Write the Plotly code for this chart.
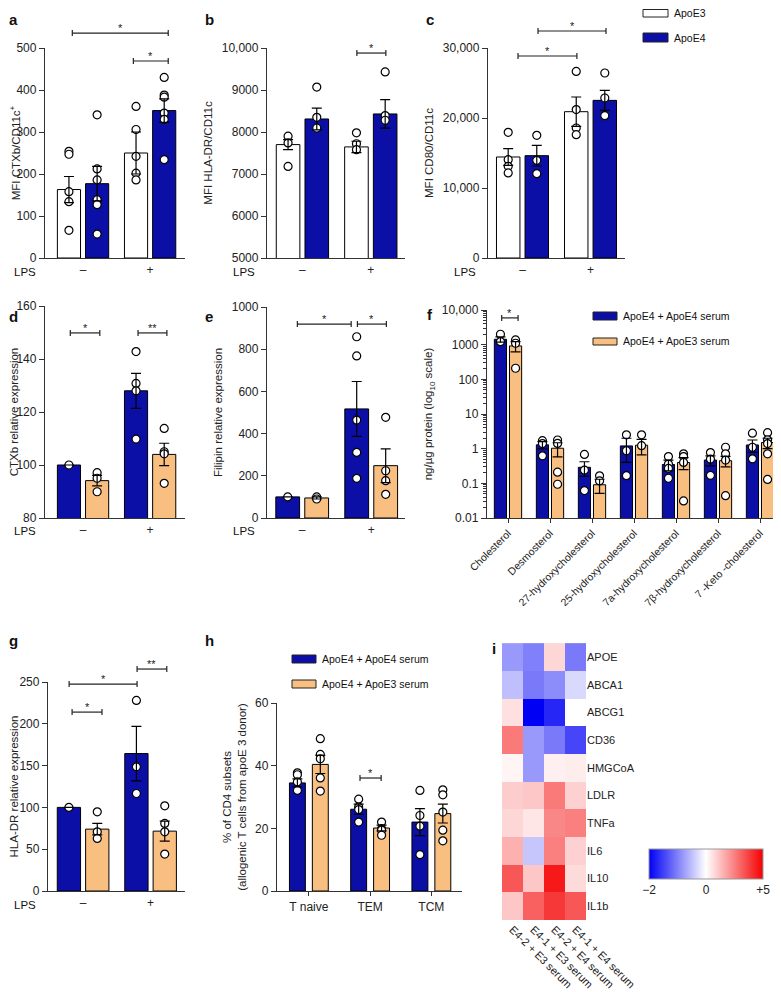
import plotly.graph_objects as go

W, H = 781, 992
PAD = 8                       # the page body adds an 8 px margin
FW, FH = W - PAD, H - PAD     # figure size so the whole page is 781 x 992
BLUE = "#0b0fa6"
ORANGE = "#f9bf80"
AXC = "#333333"
FONT = "Liberation Sans, Arial, sans-serif"

# ---- data ----
lps_groups = ["–", "+"]

# a: MFI CTXb/CD11c+  (ApoE3 / ApoE4)
a_e3_mean = [163, 250]
a_e3_sem = [31, 50]
a_e3_pts = [[254, 247, 158, 134, 66], [361, 306, 242, 202, 186]]
a_e4_mean = [177, 351]
a_e4_sem = [41, 28]
a_e4_pts = [[341, 212, 186, 139, 127, 57], [430, 388, 383, 345, 330, 234]]

# b: MFI HLA-DR/CD11c
b_e3_mean = [7700, 7645]
b_e3_sem = [120, 135]
b_e3_pts = [[7900, 7740, 7180], [7980, 7720, 7580]]
b_e4_mean = [8310, 8430]
b_e4_sem = [260, 340]
b_e4_pts = [[9070, 8350, 8095], [9430, 8390, 8280]]

# c: MFI CD80/CD11c
c_e3_mean = [14430, 20900]
c_e3_sem = [1190, 2100]
c_e3_pts = [[17950, 14050, 13100, 12150], [26650, 21200, 18570, 17620]]
c_e4_mean = [14620, 22520]
c_e4_sem = [1480, 1430]
c_e4_pts = [[17520, 13950, 12050], [26430, 22860, 20330]]

# d: CTXb relative expression (ApoE4+E4 serum / ApoE4+E3 serum)
d_e4s_mean = [100, 128]
d_e4s_sem = [0, 6.6]
d_e4s_pts = [[100], [142.8, 130.8, 128, 109.8]]
d_e3s_mean = [94.1, 104]
d_e3s_sem = [2, 4.2]
d_e3s_pts = [[97.1, 95, 89.9], [113.8, 105, 104.2, 93.1]]

# e: Filipin relative expression
e_e4s_mean = [100, 517]
e_e4s_sem = [0, 130]
e_e4s_pts = [[100], [859, 768, 464, 311, 188]]
e_e3s_mean = [95, 248]
e_e3s_sem = [5, 80]
e_e3s_pts = [[100, 90], [477, 224, 177, 112]]

# f: oxysterols, ng/ug protein
f_labels = ["Cholesterol", "Desmosterol", "27-hydroxycholesterol", "25-hydroxycholesterol",
            "7a-hydroxycholesterol", "7β-hydroxycholesterol", "7 -Keto -cholesterol"]
f_e4s_mean = [1430, 1.29, 0.29, 1.2, 0.35, 0.47, 1.28]
f_e4s_sem = [250, 0.3, 0.13, 0.8, 0.12, 0.15, 0.5]
f_e4s_pts = [[2000, 1220], [1.7, 1.4, 0.62], [0.68, 0.24, 0.062], [2.5, 0.87, 0.166],
             [0.59, 0.36, 0.27, 0.14], [0.77, 0.50, 0.17], [2.8, 1.1, 0.51]]
f_e3s_mean = [918, 1.03, 0.091, 1.26, 0.40, 0.45, 1.5]
f_e3s_sem = [300, 0.45, 0.04, 0.6, 0.15, 0.15, 0.5]
f_e3s_pts = [[1370, 1100, 209], [1.78, 1.42, 0.21, 0.094], [0.165, 0.117], [2.5, 1.22],
             [0.71, 0.59, 0.40, 0.031], [1.1, 0.71, 0.47, 0.044], [2.9, 1.8, 1.4, 0.71, 0.13]]

# g: HLA-DR relative expression
g_e4s_mean = [100, 164.4]
g_e4s_sem = [0, 32.6]
g_e4s_pts = [[100], [228, 148.5, 116.6]]
g_e3s_mean = [74, 71.6]
g_e3s_sem = [6.8, 12]
g_e3s_pts = [[94.7, 70.8, 62.9], [101.9, 80.8, 70.8, 44.2]]

# h: % of CD4 subsets
h_groups = ["T naive", "TEM", "TCM"]
h_e4s_mean = [34.5, 26.1, 22.0]
h_e4s_sem = [1.3, 1.6, 4.3]
h_e4s_pts = [[37.7, 37.1, 34.8, 32.1], [29.3, 26.8, 26.0, 22.0], [32.1, 24.1, 20.7, 11.6]]
h_e3s_mean = [40.4, 20.1, 24.7]
h_e3s_sem = [2.9, 0.9, 3.0]
h_e3s_pts = [[48.6, 43.6, 42.2, 36.1, 31.9], [22.0, 19.9, 19.4, 17.8], [32.3, 30.7, 25.2, 19.4, 16.0]]

# i: heatmap (scale -2 .. +5)
i_genes = ["APOE", "ABCA1", "ABCG1", "CD36", "HMGCoA", "LDLR", "TNFa", "IL6", "IL10", "IL1b"]
i_conditions = ["E4-2 + E3 serum", "E4-1 + E3 serum", "E4-2 + E4 serum", "E4-1 + E4 serum"]
i_values = [
    [-0.8, -1.0, 0.8, -1.05],
    [-0.5, -1.05, -0.9, -0.3],
    [0.6, -2.0, -1.7, 0.0],
    [2.6, -0.8, -1.05, -1.45],
    [0.2, -0.8, 0.3, 0.35],
    [1.0, 1.1, 2.6, 0.9],
    [0.8, 0.5, 2.35, 2.5],
    [1.55, -0.45, 2.5, 0.9],
    [3.3, 1.1, 4.5, 0.7],
    [1.1, 3.1, 3.9, 3.3],
]

fig = go.Figure()


def fx(x):
    return (x - PAD) / FW


def fy(y):
    return 1 - (y - PAD) / FH


def ax_names(n):
    k = "" if n == 1 else str(n)
    return "x" + k, "y" + k, "xaxis" + k, "yaxis" + k


def add_series(n, means, sems, pts, color, off, wid):
    xa, ya, _, _ = ax_names(n)
    xs = list(range(len(means)))
    fig.add_trace(go.Bar(x=xs, y=means, width=wid, offset=off - wid / 2,
                         marker=dict(color=color, line=dict(color="black", width=1)),
                         xaxis=xa, yaxis=ya, showlegend=False, hoverinfo="skip"))
    px_, py_ = [], []
    for xi, grp in zip(xs, pts):
        px_ += [xi + off] * len(grp)
        py_ += grp
    fig.add_trace(go.Scatter(x=px_, y=py_, mode="markers", cliponaxis=False,
                             marker=dict(size=8, color="white", line=dict(color="black", width=1.2)),
                             xaxis=xa, yaxis=ya, showlegend=False, hoverinfo="skip"))
    fig.add_trace(go.Scatter(x=[xi + off for xi in xs], y=means, mode="markers",
                             marker=dict(size=2, opacity=0),
                             error_y=dict(type="data", array=sems, color="black", thickness=1.2, width=5),
                             xaxis=xa, yaxis=ya, showlegend=False, hoverinfo="skip"))


def setup(n, xpx, ypx, xrange, xticktext, yrange, ytickvals, yticktext, ytitle,
          ytype="linear", xticks="", xangle=0, xfont=12):
    xa, ya, xk, yk = ax_names(n)
    fig.update_layout(**{
        xk: dict(domain=[fx(xpx[0]), fx(xpx[1])], range=xrange, anchor=ya, automargin=False,
                 tickvals=list(range(len(xticktext))), ticktext=xticktext,
                 showline=True, linecolor=AXC, linewidth=1.3, ticks=xticks, ticklen=4,
                 tickcolor=AXC, tickwidth=1.2, tickangle=xangle, showgrid=False, zeroline=False,
                 tickfont=dict(size=xfont, color="#222")),
        yk: dict(domain=[fy(ypx[1]), fy(ypx[0])], range=yrange, anchor=xa, type=ytype,
                 automargin=False, tickvals=ytickvals, ticktext=yticktext,
                 showline=True, linecolor=AXC, linewidth=1.3, ticks="outside", ticklen=5,
                 tickcolor=AXC, tickwidth=1.2, showgrid=False, zeroline=False,
                 tickfont=dict(size=12, color="#222"),
                 title=dict(text=ytitle, font=dict(size=11.5, color="#222"), standoff=6)),
    })


def bracket(n, x0, x1, yd, label, hpx):
    xa, ya = ax_names(n)[:2]
    c = 3.0 / hpx
    line = dict(color="#222", width=1.2)
    yr = ya + " domain"
    fig.add_shape(type="line", xref=xa, yref=yr, x0=x0, x1=x1, y0=yd, y1=yd, line=line)
    fig.add_shape(type="line", xref=xa, yref=yr, x0=x0, x1=x0, y0=yd - c, y1=yd + c, line=line)
    fig.add_shape(type="line", xref=xa, yref=yr, x0=x1, x1=x1, y0=yd - c, y1=yd + c, line=line)
    fig.add_annotation(xref=xa, yref=yr, x=(x0 + x1) / 2, y=yd, text=label, showarrow=False,
                       yanchor="bottom", yshift=-3, font=dict(size=11, color="#222"))


def ptext(x, y, text, size=12, xanchor="left"):
    fig.add_annotation(xref="paper", yref="paper", x=fx(x), y=fy(y), text=text,
                       showarrow=False, xanchor=xanchor, yanchor="middle", borderpad=0,
                       font=dict(size=size, color="#111", family=FONT))


def legend_box(x0, y0, x1, y1, color, label):
    fig.add_shape(type="rect", xref="paper", yref="paper", x0=fx(x0), x1=fx(x1),
                  y0=fy(y1), y1=fy(y0), fillcolor=color, line=dict(color="#222", width=1))
    ptext(x1 + 5, (y0 + y1) / 2, label, size=10.5)


OFF, WID = 0.21, 0.345

# a
add_series(1, a_e3_mean, a_e3_sem, a_e3_pts, "white", -OFF, WID)
add_series(1, a_e4_mean, a_e4_sem, a_e4_pts, BLUE, OFF, WID)
setup(1, (45, 185), (48, 258), [-0.567, 1.52], lps_groups, [0, 500],
      [0, 100, 200, 300, 400, 500], ["0", "100", "200", "300", "400", "500"], "MFI CTXb/CD11c<sup>+</sup>")
bracket(1, -0.16, 1.27, 1.071, "*", 210)
bracket(1, 0.75, 1.27, 0.938, "*", 210)

# b
add_series(2, b_e3_mean, b_e3_sem, b_e3_pts, "white", -OFF, WID)
add_series(2, b_e4_mean, b_e4_sem, b_e4_pts, BLUE, OFF, WID)
setup(2, (267, 405), (48, 258), [-0.518, 1.5], lps_groups, [5000, 10000],
      [5000, 6000, 7000, 8000, 9000, 10000], ["5000", "6000", "7000", "8000", "9000", "10,000"],
      "MFI HLA-DR/CD11c")
bracket(2, 0.796, 1.22, 0.976, "*", 210)

# c
add_series(3, c_e3_mean, c_e3_sem, c_e3_pts, "white", -OFF, WID)
add_series(3, c_e4_mean, c_e4_sem, c_e4_pts, BLUE, OFF, WID)
setup(3, (488, 625), (48, 258), [-0.507, 1.507], lps_groups, [0, 30000],
      [0, 10000, 20000, 30000], ["0", "10,000", "20,000", "30,000"], "MFI CD80/CD11c")
bracket(3, 0.228, 1.228, 1.081, "*", 210)
bracket(3, -0.066, 0.80, 0.962, "*", 210)

# d
add_series(4, d_e4s_mean, d_e4s_sem, d_e4s_pts, BLUE, -OFF, WID)
add_series(4, d_e3s_mean, d_e3s_sem, d_e3s_pts, ORANGE, OFF, WID)
setup(4, (45, 185), (306, 518), [-0.567, 1.52], lps_groups, [80, 160],
      [80, 100, 120, 140, 160], ["80", "100", "120", "140", "160"], "CTXb relative expression")
bracket(4, -0.19, 0.25, 0.873, "*", 212)
bracket(4, 0.82, 1.25, 0.873, "**", 212)

# e
add_series(5, e_e4s_mean, e_e4s_sem, e_e4s_pts, BLUE, -OFF, WID)
add_series(5, e_e3s_mean, e_e3s_sem, e_e3s_pts, ORANGE, OFF, WID)
setup(5, (267, 405), (307, 518), [-0.51, 1.49], lps_groups, [0, 1000],
      [0, 200, 400, 600, 800, 1000], ["0", "200", "400", "600", "800", "1000"], "Filipin relative expression")
bracket(5, -0.07, 0.71, 0.919, "*", 211)
bracket(5, 0.80, 1.22, 0.919, "*", 211)

# f
add_series(6, f_e4s_mean, f_e4s_sem, f_e4s_pts, BLUE, -0.18, 0.29)
add_series(6, f_e3s_mean, f_e3s_sem, f_e3s_pts, ORANGE, 0.18, 0.29)
setup(6, (487, 781), (310, 518), [-0.5, 6.5], f_labels, [-2, 4],
      [0.01, 0.1, 1, 10, 100, 1000, 10000], ["0.01", "0.1", "1", "10", "100", "1000", "10,000"],
      "ng/µg protein (log<sub>10</sub> scale)", ytype="log", xticks="outside", xangle=-45, xfont=10.5)
fig.update_layout(yaxis6=dict(minor=dict(ticks="outside", ticklen=3, tickcolor=AXC, dtick="D1")))
bracket(6, -0.15, 0.24, 0.962, "*", 208)

# g
add_series(7, g_e4s_mean, g_e4s_sem, g_e4s_pts, BLUE, -OFF, WID)
add_series(7, g_e3s_mean, g_e3s_sem, g_e3s_pts, ORANGE, OFF, WID)
setup(7, (48, 185), (682, 891), [-0.52, 1.51], lps_groups, [0, 250],
      [0, 50, 100, 150, 200, 250], ["0", "50", "100", "150", "200", "250"], "HLA-DR relative expression")
bracket(7, -0.163, 0.28, 0.856, "*", 209)
bracket(7, -0.207, 0.80, 0.990, "*", 209)
bracket(7, 0.80, 1.24, 1.062, "**", 209)

# h
add_series(8, h_e4s_mean, h_e4s_sem, h_e4s_pts, BLUE, -0.187, 0.26)
add_series(8, h_e3s_mean, h_e3s_sem, h_e3s_pts, ORANGE, 0.187, 0.26)
setup(8, (277, 462), (703, 891), [-0.52, 2.5], h_groups, [0, 60],
      [0, 20, 40, 60], ["0", "20", "40", "60"],
      "% of CD4 subsets<br>(allogenic T cells from apoE 3 donor)", xticks="outside")
bracket(8, 0.835, 1.18, 0.601, "*", 188)

# i heatmap
fig.add_trace(go.Heatmap(z=i_values, x=i_conditions, y=i_genes, zmin=-2, zmax=5,
                         colorscale=[[0, "#0000f5"], [2 / 7, "#ffffff"], [1, "#f50000"]],
                         showscale=False, xaxis="x9", yaxis="y9", hoverinfo="skip"))
# colour key: blue-white-red with white in the middle, labelled -2 / 0 / +5
fig.add_trace(go.Scatter(x=[i_conditions[0]], y=[i_genes[0]], mode="markers", xaxis="x9", yaxis="y9",
                         showlegend=False, hoverinfo="skip",
                         marker=dict(size=1, opacity=0, color=[0], cmin=-1, cmax=1,
                                     colorscale=[[0, "#0000f5"], [0.5, "#ffffff"], [1, "#f50000"]],
                                     showscale=True,
                                     colorbar=dict(orientation="h", x=fx(706), xanchor="center",
                                                   y=fy(849), yanchor="top", len=114 / FW, lenmode="fraction",
                                                   thickness=30, thicknessmode="pixels", xpad=0, ypad=0,
                                                   outlinewidth=1, outlinecolor="#999",
                                                   tickvals=[-1, 0, 1], ticktext=["−2", "0", "+5"], ticks="",
                                                   ticklabelposition="outside bottom",
                                                   tickfont=dict(size=12, color="#222")))))
fig.update_layout(
    xaxis9=dict(domain=[fx(502), fx(586)], anchor="y9", tickangle=45, showline=False, ticks="",
                automargin=False, showgrid=False, zeroline=False, tickfont=dict(size=11, color="#222")),
    yaxis9=dict(domain=[fy(920), fy(640)], anchor="x9", side="right", autorange="reversed",
                automargin=False, showline=False, ticks="", showgrid=False, zeroline=False,
                tickfont=dict(size=11, color="#222")),
)

# legends
legend_box(643, 9.5, 668, 17, "white", "ApoE3")
legend_box(643, 33, 668, 42, BLUE, "ApoE4")
legend_box(593, 312, 617, 320, BLUE, "ApoE4 + ApoE4 serum")
legend_box(593, 338, 617, 345, ORANGE, "ApoE4 + ApoE3 serum")
legend_box(292, 655, 316, 663, BLUE, "ApoE4 + ApoE4 serum")
legend_box(292, 680, 316, 688, ORANGE, "ApoE4 + ApoE3 serum")

# LPS row labels
for x_r, y_c in [(37, 272), (256, 272), (477, 272), (37, 531), (256, 531), (37, 905)]:
    ptext(x_r, y_c, "LPS", size=11.5, xanchor="right")

# panel letters
for lt, x, y in [("a", 8, 19), ("b", 204, 19), ("c", 425, 19), ("d", 8, 317), ("e", 204, 317),
                 ("f", 426, 314), ("g", 8, 640), ("h", 204, 640), ("i", 491, 648)]:
    ptext(x, y, "<b>" + lt + "</b>", size=15)

fig.update_layout(width=FW, height=FH, margin=dict(l=0, r=0, t=0, b=0, autoexpand=False),
                  plot_bgcolor="white", paper_bgcolor="white",
                  font=dict(family=FONT, color="#222"), showlegend=False, barmode="overlay")

fig.write_html("out.html")
